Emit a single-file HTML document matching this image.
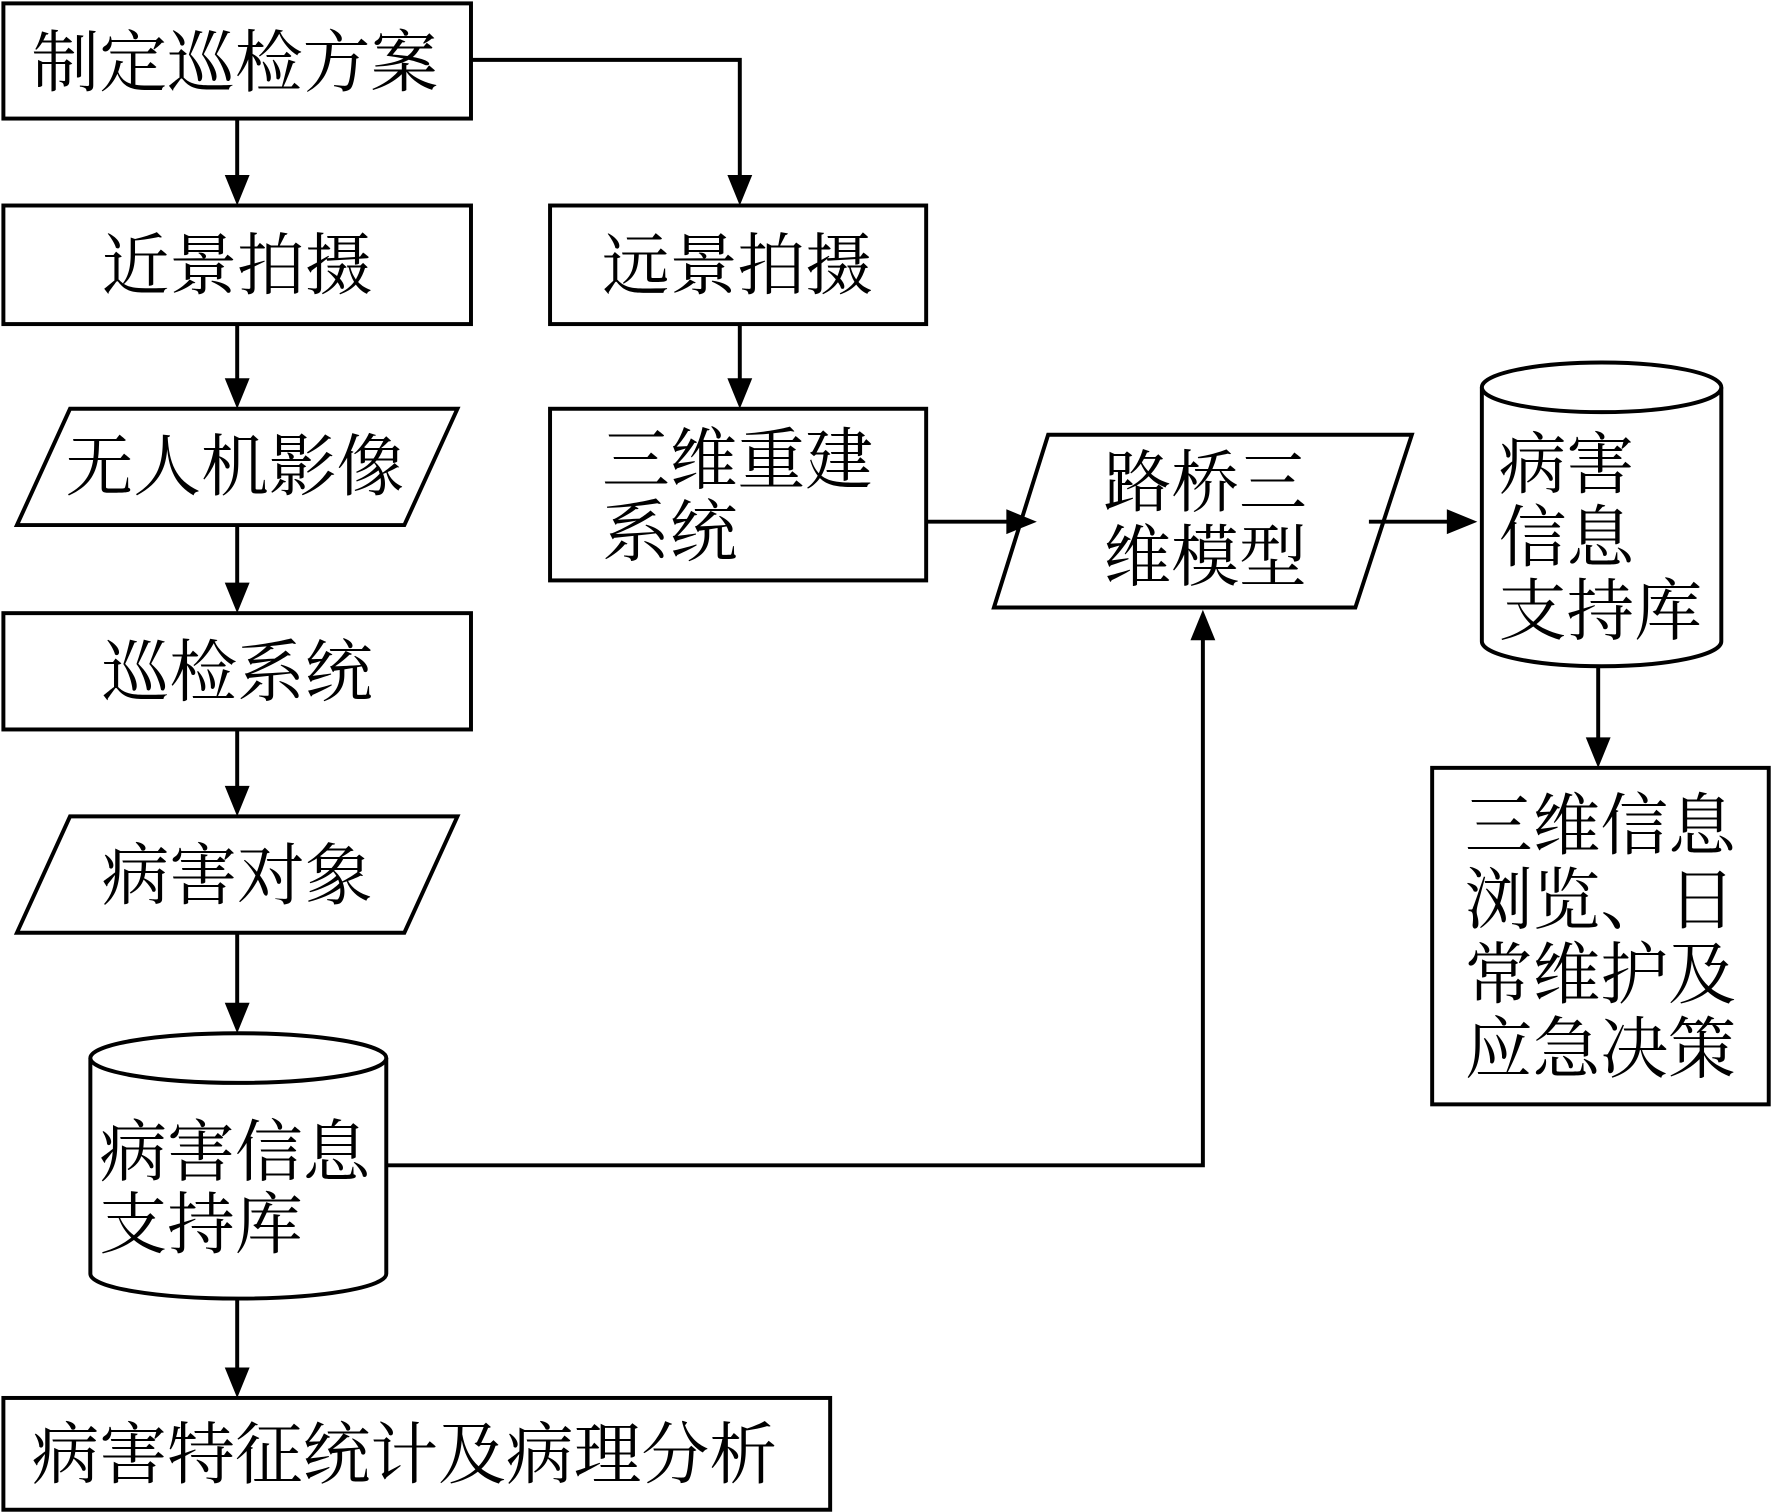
<!DOCTYPE html>
<html><head><meta charset="utf-8"><style>
html,body{margin:0;padding:0;background:#fff;}
svg{display:block;}
text{font-family:"Liberation Serif","Noto Serif CJK SC","Noto Sans CJK SC",serif;font-size:60px;fill:#000;}
</style></head><body>
<svg width="1771" height="1512" viewBox="0 0 1568 1339" preserveAspectRatio="none" xmlns="http://www.w3.org/2000/svg">
<defs>
<marker id="a" markerWidth="10" markerHeight="8" refX="9.5" refY="4" orient="auto" markerUnits="userSpaceOnUse" viewBox="0 0 10 8">
</marker>
</defs>
<g fill="#fff" stroke="#000" stroke-width="3.5">
<rect x="3" y="3" width="414" height="102"/>
<rect x="3" y="182" width="414" height="105"/>
<polygon points="62,362 405,362 358,465 15,465"/>
<rect x="3" y="543" width="414" height="103"/>
<polygon points="62,723 405,723 358,826 15,826"/>
<path d="M80,937 L80,1128 A131,22 0 0 0 342,1128 L342,937"/>
<ellipse cx="211" cy="937" rx="131" ry="22"/>
<rect x="3" y="1238" width="732" height="99"/>
<rect x="487" y="182" width="333" height="105"/>
<rect x="487" y="362" width="333" height="152"/>
<polygon points="928,385 1250,385 1200,538 880,538"/>
<path d="M1312,343 L1312,568 A106,22 0 0 0 1524,568 L1524,343"/>
<ellipse cx="1418" cy="343" rx="106" ry="22"/>
<rect x="1268" y="680" width="298" height="298"/>
</g>
<g stroke="#000" stroke-width="3.5" fill="none">
<line x1="210" y1="105" x2="210" y2="160"/>
<line x1="210" y1="287" x2="210" y2="340"/>
<line x1="210" y1="465" x2="210" y2="521"/>
<line x1="210" y1="646" x2="210" y2="701"/>
<line x1="210" y1="826" x2="210" y2="893"/>
<line x1="210" y1="1150" x2="210" y2="1216"/>
<polyline points="417,53 655,53 655,160"/>
<line x1="655" y1="287" x2="655" y2="340"/>
<line x1="820" y1="462" x2="896" y2="462"/>
<line x1="1212" y1="462" x2="1286" y2="462"/>
<line x1="1415" y1="590" x2="1415" y2="658"/>
<polyline points="342,1032 1065,1032 1065,562"/>
</g>
<g fill="#000">
<polygon points="199,155 221,155 210,182"/>
<polygon points="199,335 221,335 210,362"/>
<polygon points="199,516 221,516 210,543"/>
<polygon points="199,696 221,696 210,723"/>
<polygon points="199,888 221,888 210,915"/>
<polygon points="199,1211 221,1211 210,1238"/>
<polygon points="644,155 666,155 655,182"/>
<polygon points="644,335 666,335 655,362"/>
<polygon points="891,451 891,473 918,462"/>
<polygon points="1281,451 1281,473 1308,462"/>
<polygon points="1404,653 1426,653 1415,680"/>
<polygon points="1054,567 1076,567 1065,540"/>
</g>
<text x="28" y="76">制定巡检方案</text>
<text x="90" y="256">近景拍摄</text>
<text x="58" y="434">无人机影像</text>
<text x="90" y="616">巡检系统</text>
<text x="90" y="796">病害对象</text>
<text x="88" y="1041">病害信息</text>
<text x="88" y="1105">支持库</text>
<text x="28" y="1309">病害特征统计及病理分析</text>
<text x="533" y="256">远景拍摄</text>
<text x="533" y="428">三维重建</text>
<text x="533" y="492">系统</text>
<text x="977" y="448">路桥三</text>
<text x="977" y="514">维模型</text>
<text x="1327" y="432">病害</text>
<text x="1327" y="497">信息</text>
<text x="1327" y="562">支持库</text>
<text x="1297" y="752">三维信息</text>
<text x="1297" y="818">浏览、日</text>
<text x="1297" y="884">常维护及</text>
<text x="1297" y="950">应急决策</text>
</svg>
</body></html>
